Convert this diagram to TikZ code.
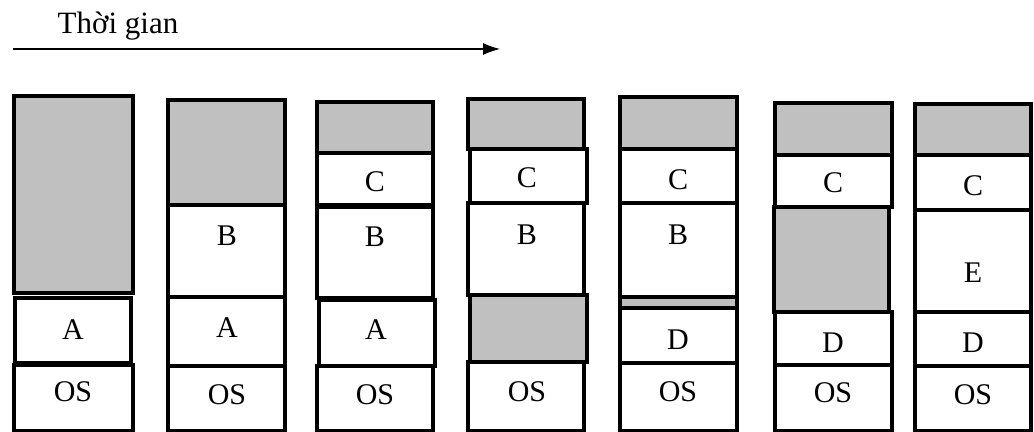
\documentclass[tikz,border=0pt]{standalone}
\usepackage{fontspec}
\setmainfont{Liberation Serif}
\usepackage{tikz}
\usetikzlibrary{arrows.meta}
\definecolor{holegray}{RGB}{192,192,192}

\begin{document}
\begin{tikzpicture}[x=0.5pt,y=-0.5pt,
	every node/.style={font=\fontsize{15}{18}\selectfont,inner sep=0pt},
	used/.style={draw=black,line width=1.7pt,fill=white},
	hole/.style={draw=black,line width=1.7pt,fill=holegray}]
\useasboundingbox (0,0) rectangle (1034,432);
% time axis
\node[font=\fontsize{15.5}{18}\selectfont] (time) at (118,26) {Thời gian};
\coordinate (t0) at (13,49);
\coordinate (t1) at (500,49);
\draw[line width=0.6pt,-{Latex[length=8.5pt,width=6pt]}] (t0) -- (t1);
% column 1
\draw[hole] (14,96) rectangle (133,293);
\draw[used] (15,298) rectangle (131,363);
\draw[used] (14,365) rectangle (133,431);
\node (a1) at (73,330) {A};
\node (os1) at (73,392) {OS};
% column 2
\draw[hole] (168,100) rectangle (285,205);
\draw[used] (168,205) rectangle (285,297);
\draw[used] (168,297) rectangle (285,366);
\draw[used] (168,366) rectangle (285,431);
\node (b2) at (227,236) {B};
\node (a2) at (227,328) {A};
\node (os2) at (227,395) {OS};
% column 3
\draw[hole] (317,102) rectangle (433,153);
\draw[used] (317,153) rectangle (433,205);
\draw[used] (317,207) rectangle (433,298);
\draw[used] (319,300) rectangle (435,366);
\draw[used] (317,366) rectangle (433,431);
\node (c3) at (375,182) {C};
\node (b3) at (375,237) {B};
\node (a3) at (376,330) {A};
\node (os3) at (375,395) {OS};
% column 4
\draw[hole] (468,99) rectangle (584,149);
\draw[used] (470,149) rectangle (587,203);
\draw[used] (468,203) rectangle (584,295);
\draw[hole] (470,295) rectangle (587,362);
\draw[used] (468,362) rectangle (584,431);
\node (c4) at (527,178) {C};
\node (b4) at (527,235) {B};
\node (os4) at (527,392) {OS};
% column 5
\draw[hole] (620,97) rectangle (737,149);
\draw[used] (620,149) rectangle (737,203);
\draw[used] (620,203) rectangle (737,297);
\draw[hole] (620,297) rectangle (737,308);
\draw[used] (620,308) rectangle (737,363);
\draw[used] (620,363) rectangle (737,431);
\node (c5) at (678,180) {C};
\node (b5) at (678,235) {B};
\node (d5) at (678,340) {D};
\node (os5) at (678,392) {OS};
% column 6
\draw[hole] (775,103) rectangle (892,155);
\draw[used] (775,155) rectangle (892,207);
\draw[hole] (774,207) rectangle (889,312);
\draw[used] (775,312) rectangle (892,365);
\draw[used] (775,365) rectangle (892,431);
\node (c6) at (833,183) {C};
\node (d6) at (833,343) {D};
\node (os6) at (833,393) {OS};
% column 7
\draw[hole] (915,104) rectangle (1031,155);
\draw[used] (915,155) rectangle (1031,210);
\draw[used] (915,210) rectangle (1031,312);
\draw[used] (915,312) rectangle (1031,366);
\draw[used] (915,366) rectangle (1031,431);
\node (c7) at (973,186) {C};
\node (e7) at (973,273) {E};
\node (d7) at (973,343) {D};
\node (os7) at (973,395) {OS};
\end{tikzpicture}
\end{document}
